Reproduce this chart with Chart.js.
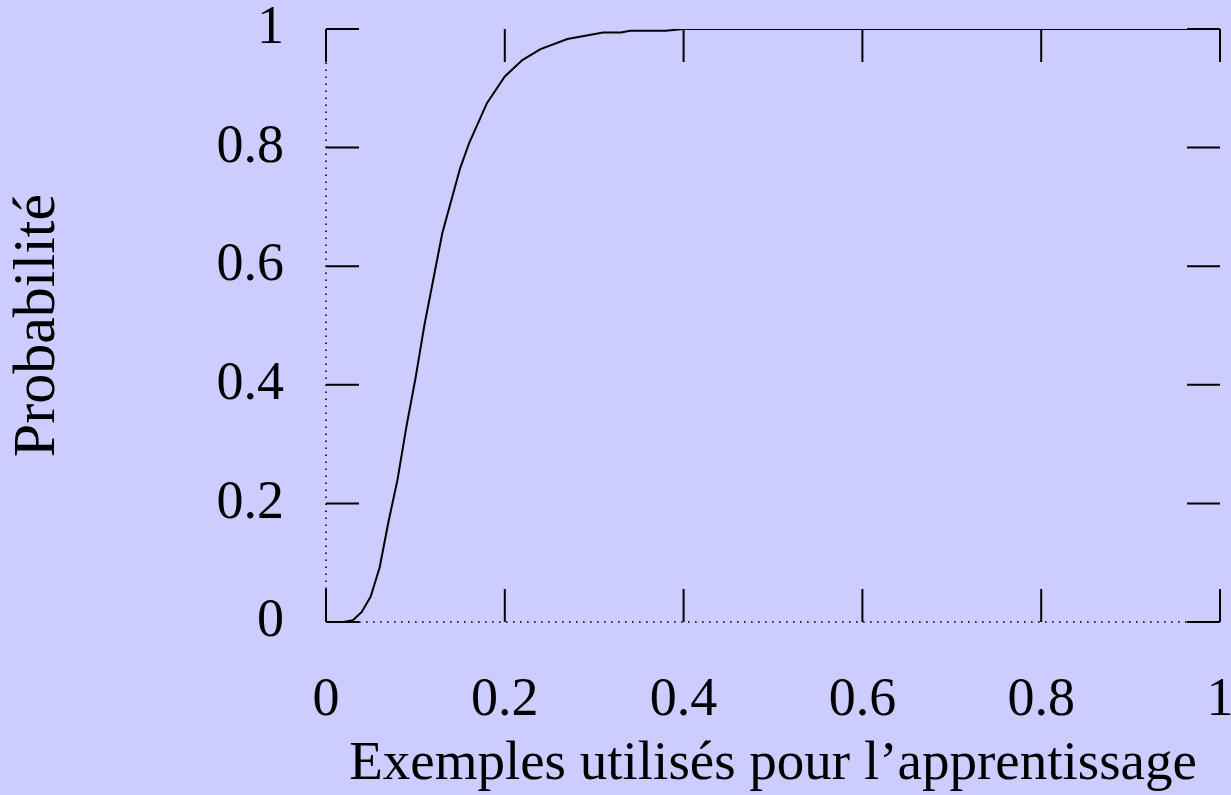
<!DOCTYPE html>
<html lang="fr">
<head>
<meta charset="utf-8">
<title>Probabilité</title>
<script src="https://cdn.jsdelivr.net/npm/chart.js@4/dist/chart.umd.min.js"></script>
<style>
    html, body { margin: 0; padding: 0; background: #ccccff; }
    #chart-box { width: 1231px; height: 795px; }
</style>
</head>
<body>
<div id="chart-box"><canvas id="proba-chart"></canvas></div>
<script>
// Fraction of examples used for learning
const exemples = [0, 0.01, 0.02, 0.03, 0.04, 0.05, 0.06, 0.07, 0.08, 0.09, 0.10, 0.11,
    0.13, 0.15, 0.16, 0.18, 0.20, 0.22, 0.24, 0.27, 0.31, 0.33, 0.34, 0.38, 0.40, 1.0];
// Probability for each fraction
const probabilite = [0, 0, 0, 0.003, 0.017, 0.043, 0.092, 0.17, 0.24, 0.33, 0.41, 0.50,
    0.655, 0.765, 0.807, 0.875, 0.92, 0.948, 0.966, 0.983, 0.994, 0.994, 0.997, 0.997, 1, 1];

const xTitle = "Exemples utilisés pour l\u2019apprentissage";
const yTitle = "Probabilité";

document.addEventListener("DOMContentLoaded", () => {
    const serif = "'Liberation Serif', 'Times New Roman', serif";
    const tickLen = 33;

    // "1" rather than "1.0", "0" rather than "0.0"
    const shortLabel = value => String(Number(value.toFixed(2)));

    // Dotted zero axes plus inward tick marks on all four sides
    const frameTicks = {
        id: "frameTicks",
        beforeDatasetsDraw(chart) {
            const { ctx, scales: { x, y } } = chart;
            const x0 = Math.round(x.getPixelForValue(0)), x1 = x.getPixelForValue(1);
            const y0 = Math.round(y.getPixelForValue(0)), y1 = y.getPixelForValue(1);
            ctx.save();
            ctx.strokeStyle = "#000";
            ctx.lineWidth = 1.6;
            ctx.setLineDash([1.6, 5.4]);
            ctx.beginPath();
            ctx.moveTo(x0 + 33, y0);
            ctx.lineTo(x1, y0);
            ctx.moveTo(x0, y0 - 33);
            ctx.lineTo(x0, y1);
            ctx.stroke();
            ctx.restore();
        },
        afterDatasetsDraw(chart) {
            const { ctx, scales: { x, y } } = chart;
            const top = y.getPixelForValue(1), bottom = y.getPixelForValue(0);
            const left = x.getPixelForValue(0), right = x.getPixelForValue(1);
            ctx.save();
            ctx.strokeStyle = "#000";
            ctx.lineWidth = 2;
            ctx.beginPath();
            x.ticks.forEach(t => {
                const px = x.getPixelForValue(t.value);
                ctx.moveTo(px, bottom);
                ctx.lineTo(px, bottom - tickLen);
                ctx.moveTo(px, top);
                ctx.lineTo(px, top + tickLen);
            });
            y.ticks.forEach(t => {
                const py = y.getPixelForValue(t.value);
                ctx.moveTo(left, py);
                ctx.lineTo(left + tickLen, py);
                ctx.moveTo(right, py);
                ctx.lineTo(right - tickLen, py);
            });
            ctx.stroke();
            ctx.restore();
        }
    };

    const points = exemples.map((v, i) => ({ x: v, y: probabilite[i] }));

    new Chart(document.getElementById("proba-chart"), {
        type: "scatter",
        data: {
            datasets: [{
                data: points,
                showLine: true,
                borderColor: "#000",
                borderWidth: 2,
                pointRadius: 0,
                tension: 0
            }]
        },
        options: {
            responsive: true,
            maintainAspectRatio: false,
            animation: false,
            layout: { padding: { top: 29, right: 11, bottom: 0, left: 0 } },
            plugins: {
                legend: { display: false },
                tooltip: { enabled: false }
            },
            scales: {
                x: {
                    type: "linear",
                    min: 0,
                    max: 1,
                    border: { display: false },
                    grid: { display: false },
                    ticks: {
                        stepSize: 0.2,
                        padding: 38,
                        color: "#000",
                        font: { family: serif, size: 54 },
                        callback: shortLabel
                    },
                    title: {
                        display: true,
                        text: xTitle,
                        color: "#000",
                        padding: { top: 0, bottom: -3 },
                        font: { family: serif, size: 55 }
                    },
                    afterFit(scale) {
                        scale.height = 173;
                        scale.paddingLeft = 0;
                        scale.paddingRight = 0;
                    }
                },
                y: {
                    type: "linear",
                    min: 0,
                    max: 1,
                    border: { display: false },
                    grid: { display: false },
                    ticks: {
                        stepSize: 0.2,
                        padding: 34,
                        color: "#000",
                        font: { family: serif, size: 54 },
                        callback: shortLabel
                    },
                    title: {
                        display: true,
                        text: yTitle,
                        color: "#000",
                        padding: { top: 2, bottom: 0 },
                        font: { family: serif, size: 60 }
                    },
                    afterFit(scale) {
                        scale.width = 326;
                        scale.paddingTop = 0;
                        scale.paddingBottom = 0;
                    }
                }
            }
        },
        plugins: [frameTicks]
    });
});
</script>
</body>
</html>
